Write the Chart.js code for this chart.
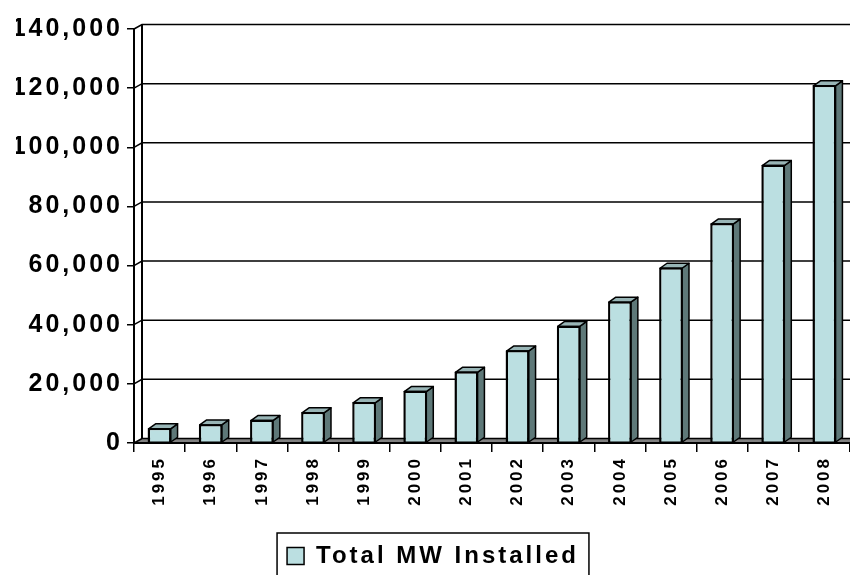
<!DOCTYPE html>
<html>
<head>
<meta charset="utf-8">
<script src="https://cdn.jsdelivr.net/npm/chart.js@4.4.1/dist/chart.umd.min.js"></script>
<style>
  html, body { margin: 0; background: #fff; }
  canvas { display: block; }
</style>
</head>
<body>
<canvas id="chart" width="850" height="575"></canvas>
<script>
// data
const years = ['1995', '1996', '1997', '1998', '1999', '2000', '2001',
               '2002', '2003', '2004', '2005', '2006', '2007', '2008'];
const totalMW = [4800, 6100, 7600, 10200, 13600, 17400, 23900,
                 31100, 39431, 47620, 59091, 74052, 93820, 120791];
const yTicks = [0, 20000, 40000, 60000, 80000, 100000, 120000, 140000];
const seriesName = 'Total MW Installed';

// look
const fontFamily = '"Liberation Sans", Arial, sans-serif';
const faceColor = '#BBDFE1';
const topColor = '#98B5B6';
const sideColor = '#5E7878';
const floorColor = '#808080';
const wallDX = 8, wallDY = 4.5;   // depth of the back wall
const barDX = 7, barDY = 5;       // depth of each bar

// old excel spacing between letters
const spacingPlugin = {
  id: 'spacing',
  beforeLayout(chart) { chart.ctx.letterSpacing = '3px'; },
  beforeDraw(chart) { chart.ctx.letterSpacing = '3px'; }
};

// back wall, side wall and floor
const wallsPlugin = {
  id: 'walls',
  beforeDraw(chart) {
    const { ctx, chartArea: a, scales: { y } } = chart;
    ctx.save();
    ctx.beginPath();
    ctx.moveTo(a.left, a.bottom);
    ctx.lineTo(a.left + wallDX, a.bottom - wallDY);
    ctx.lineTo(a.right + wallDX, a.bottom - wallDY);
    ctx.lineTo(a.right, a.bottom);
    ctx.closePath();
    ctx.fillStyle = floorColor;
    ctx.fill();

    ctx.strokeStyle = '#000';
    ctx.lineWidth = 1.5;
    yTicks.forEach(v => {
      const py = y.getPixelForValue(v);
      ctx.beginPath();
      ctx.moveTo(a.left, py);
      ctx.lineTo(a.left + wallDX, py - wallDY);
      ctx.lineTo(a.right + wallDX, py - wallDY);
      ctx.stroke();
    });

    ctx.lineWidth = 2;
    ctx.beginPath();
    ctx.moveTo(a.left + wallDX, y.getPixelForValue(yTicks[yTicks.length - 1]) - wallDY);
    ctx.lineTo(a.left + wallDX, a.bottom - wallDY);
    ctx.stroke();
    ctx.restore();
  }
};

// top and side faces of the bars
const barsPlugin = {
  id: 'bars3d',
  afterDatasetsDraw(chart) {
    const ctx = chart.ctx;
    const meta = chart.getDatasetMeta(0);
    ctx.save();
    ctx.strokeStyle = '#000';
    ctx.lineWidth = 1.5;
    ctx.lineJoin = 'round';
    const poly = (pts, fill) => {
      ctx.beginPath();
      pts.forEach((p, i) => i ? ctx.lineTo(p[0], p[1]) : ctx.moveTo(p[0], p[1]));
      ctx.closePath();
      ctx.fillStyle = fill;
      ctx.fill();
      ctx.stroke();
    };
    meta.data.forEach(bar => {
      const { x, y, base, width } = bar.getProps(['x', 'y', 'base', 'width'], true);
      const l = x - width / 2, r = x + width / 2;
      poly([[r, y], [r + barDX, y - barDY], [r + barDX, base - barDY], [r, base]], sideColor);
      poly([[l, y], [l + barDX, y - barDY], [r + barDX, y - barDY], [r, y]], topColor);
      ctx.strokeRect(l, y, width, base - y);
    });
    ctx.restore();
  }
};

// frame round the legend
const legendBoxPlugin = {
  id: 'legendBox',
  afterDraw(chart) {
    const lg = chart.legend;
    const hb = lg.legendHitBoxes[0];
    if (!hb) return;
    const ctx = chart.ctx;
    ctx.save();
    ctx.strokeStyle = '#000';
    ctx.lineWidth = 1.5;
    ctx.strokeRect(hb.left - 10, hb.top - 11, hb.width + 20, 80);
    ctx.restore();
  }
};

new Chart(document.getElementById('chart'), {
  type: 'bar',
  data: {
    labels: years,
    datasets: [{
      label: seriesName,
      data: totalMW,
      backgroundColor: faceColor,
      borderColor: '#000',
      borderWidth: 1.5,
      categoryPercentage: 1,
      barPercentage: 0.43
    }]
  },
  options: {
    responsive: false,
    devicePixelRatio: 1,
    animation: false,
    events: [],
    layout: { padding: { left: 16, top: 29, right: 0, bottom: -3 } },
    scales: {
      x: {
        afterFit: s => { s.height = 94; },
        grid: { offset: true, drawOnChartArea: false, drawTicks: true, tickLength: 9, color: '#000', lineWidth: 1.5 },
        border: { display: true, color: '#000', width: 2 },
        ticks: {
          color: '#000',
          minRotation: 90,
          maxRotation: 90,
          padding: 4,
          font: { family: fontFamily, size: 17, weight: 'bold' }
        }
      },
      y: {
        min: 0,
        max: 140000,
        afterBuildTicks: s => { s.ticks = yTicks.map(v => ({ value: v })); },
        afterFit: s => { s.width = 118; },
        grid: { drawOnChartArea: false, drawTicks: true, tickLength: 7, color: '#000', lineWidth: 1.5 },
        border: { display: true, color: '#000', width: 2 },
        ticks: {
          color: '#000',
          padding: 4,
          font: { family: fontFamily, size: 25, weight: 'bold' },
          callback: v => v.toLocaleString('en-US')
        }
      }
    },
    plugins: {
      legend: {
        position: 'bottom',
        labels: {
          color: '#000',
          boxWidth: 17,
          boxHeight: 17,
          padding: 7,
          font: { family: fontFamily, size: 24, weight: 'bold', lineHeight: 1 }
        }
      },
      tooltip: { enabled: false }
    }
  },
  plugins: [spacingPlugin, wallsPlugin, barsPlugin, legendBoxPlugin]
});
</script>
</body>
</html>
